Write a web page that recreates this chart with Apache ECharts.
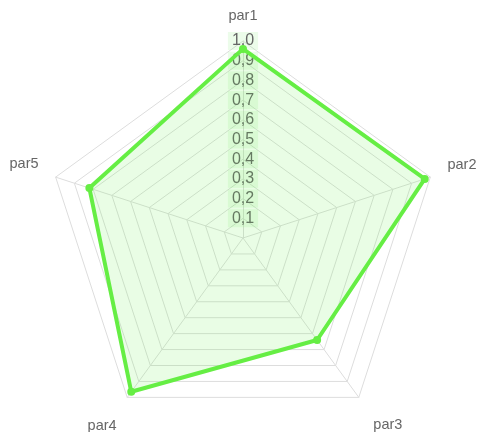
<!DOCTYPE html>
<html><head><meta charset="utf-8">
<script src="https://cdn.jsdelivr.net/npm/echarts@6/dist/echarts.min.js"></script>
<style>html,body{margin:0;padding:0;background:#fff}#c{width:480px;height:432px}</style>
</head><body><div id="c"></div>
<script>
var indicators = ['par1', 'par2', 'par3', 'par4', 'par5'];
var values = [0.96, 0.97, 0.64, 0.965, 0.82];
var maxValue = 1.0;

// ECharts draws radar axes counter-clockwise; reorder so they run clockwise.
var order = [0, 4, 3, 2, 1];
var namePad = {
  par1: [0, 0, 0, 0],
  par2: [0, 0, 14, 0],
  par3: [26, 0, 0, 4],
  par4: [28, 0, 0, 0],
  par5: [0, 0, 16, 0]
};
var font = 'Liberation Sans, Arial, Helvetica, sans-serif';
var chart = echarts.init(document.getElementById('c'), null, {renderer: 'canvas'});
var ind = order.map(function (k, i) {
  var o = {name: indicators[k], min: 0, max: maxValue};
  if (i === 0) {
    o.axisLabel = {
      show: true, color: '#666', fontSize: 16, fontFamily: font,
      showMinLabel: false, showMaxLabel: true, hideOverlap: false,
      margin: 0, align: 'center', verticalAlign: 'middle',
      backgroundColor: 'rgba(110,230,90,0.13)', padding: [1, 4, 1, 4],
      formatter: function (v) { return v === 0 ? '' : v.toFixed(1).replace('.', ','); }
    };
  }
  return o;
});
var rich = {};
indicators.forEach(function (n) {
  rich[n] = {color: '#666', fontSize: 14.5, fontFamily: font, padding: namePad[n]};
});
chart.setOption({
  animation: false,
  radar: {
    center: [243, 238],
    radius: 197,
    splitNumber: 10,
    startAngle: 90,
    indicator: ind,
    axisName: {
      color: '#666', fontSize: 14.5, fontFamily: font,
      formatter: function (name) { return '{' + name + '|' + name + '}'; },
      rich: rich
    },
    nameGap: 18,
    axisLabel: {show: false},
    axisLine: {lineStyle: {color: '#ddd'}},
    splitLine: {lineStyle: {color: '#ddd'}},
    splitArea: {show: false}
  },
  series: [{
    type: 'radar',
    symbol: 'circle',
    symbolSize: 8,
    lineStyle: {color: '#66ee44', width: 4},
    itemStyle: {color: '#66ee44'},
    areaStyle: {color: 'rgba(102,238,68,0.2)'},
    data: [{value: order.map(function (k) { return values[k]; })}]
  }]
});
</script></body></html>
